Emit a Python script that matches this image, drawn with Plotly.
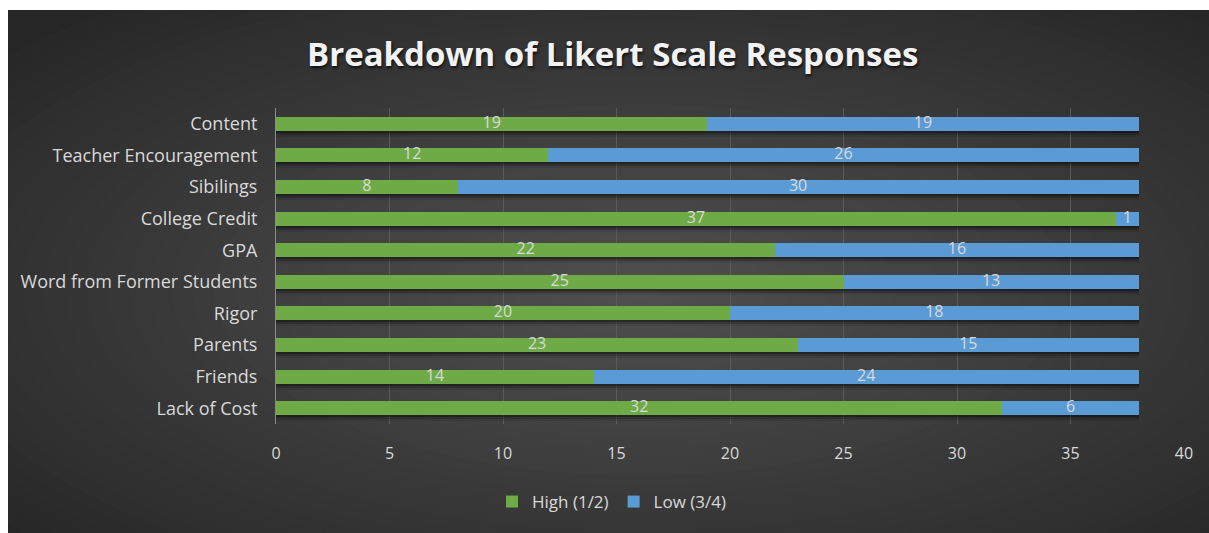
import plotly.graph_objects as go

categories = ["Lack of Cost", "Friends", "Parents", "Rigor", "Word from Former Students",
              "GPA", "College Credit", "Sibilings", "Teacher Encouragement", "Content"]
high = [32, 14, 23, 20, 25, 22, 37, 8, 12, 19]
low = [6, 24, 15, 18, 13, 16, 1, 30, 26, 19]
x_ticks = [0, 5, 10, 15, 20, 25, 30, 35, 40]
title_text = "Breakdown of Likert Scale Responses"
series_names = ["High (1/2)", "Low (3/4)"]

W, H = 1209, 533
ML, MR, MT, MB = 276, 1209 - 1184, 108, 533 - 424
PW, PH = W - ML - MR, H - MT - MB

def px_x(px):
    return (px - ML) / PW

def px_y(py):
    return (H - MB - py) / PH

FONT = "Open Sans"
TXT = "#d9d9d9"
GREEN = "#6eab46"
BLUE = "#5b9bd5"
BAR_W = 0.443
CAT_PX = PH / len(categories)

fig = go.Figure()
# soft drop shadow under each bar, one layer per overlaid axis so they do not stack
totals = [h + l for h, l in zip(high, low)]
for ax, (d_px, alpha) in zip(("y", "y2", "y3"), ((2, 0.28), (4, 0.18), (6, 0.08))):
    d = d_px / CAT_PX
    fig.add_trace(go.Bar(y=categories, x=totals, orientation="h", yaxis=ax,
                         width=BAR_W, offset=-BAR_W / 2 - d, showlegend=False, hoverinfo="skip",
                         marker=dict(color="rgba(0,0,0,%.2f)" % alpha, line=dict(width=0))))

fig.add_trace(go.Bar(y=categories, x=high, orientation="h", name=series_names[0], yaxis="y4",
                     width=BAR_W, marker=dict(color=GREEN, line=dict(width=0))))
fig.add_trace(go.Bar(y=categories, x=low, orientation="h", name=series_names[1], yaxis="y4",
                     width=BAR_W, marker=dict(color=BLUE, line=dict(width=0))))

# data labels at the centre of each segment
hi_mid = [h / 2 for h in high]
lo_mid = [h + l / 2 for h, l in zip(high, low)]
for xs, vals in ((hi_mid, high), (lo_mid, low)):
    fig.add_trace(go.Scatter(x=xs, y=categories, mode="text", text=[str(v) for v in vals],
                             textposition="middle center", showlegend=False, hoverinfo="skip",
                             yaxis="y4", textfont=dict(family=FONT, size=16, color=TXT)))

shapes = []
# dark panel base (x 8..1209, y 10..533)
shapes.append(dict(type="rect", xref="paper", yref="paper", x0=px_x(8), x1=px_x(1215),
                   y0=px_y(540), y1=px_y(10), fillcolor="#262626", line=dict(width=0), layer="below"))
# radial gradient with concentric ellipses
cx, cy = 640, 290
rx, ry = 600 * 1.42, 262 * 1.42
N = 40
dark, light = 38, 80
for i in range(N):
    s = 1 - i / N
    v = int(round(dark + (light - dark) * (1 - s) ** 0.9))
    col = "rgb(%d,%d,%d)" % (v, v, v)
    shapes.append(dict(type="circle", xref="paper", yref="paper",
                       x0=px_x(cx - rx * s), x1=px_x(cx + rx * s),
                       y0=px_y(cy + ry * s), y1=px_y(cy - ry * s),
                       fillcolor=col, line=dict(width=0), layer="below"))
# white strips above and left of the panel
shapes.append(dict(type="rect", xref="paper", yref="paper", x0=px_x(-5), x1=px_x(1220),
                   y0=px_y(10), y1=px_y(-5), fillcolor="white", line=dict(width=0), layer="below"))
shapes.append(dict(type="rect", xref="paper", yref="paper", x0=px_x(-5), x1=px_x(8),
                   y0=px_y(540), y1=px_y(-5), fillcolor="white", line=dict(width=0), layer="below"))

yrange = [-0.5, len(categories) - 0.5]
hidden_y = dict(overlaying="y", categoryorder="array", categoryarray=categories, range=yrange,
                showgrid=False, zeroline=False, showline=False, showticklabels=False, ticks="")
fig.update_layout(
    width=W, height=H,
    margin=dict(l=ML, r=MR, t=MT, b=MB),
    paper_bgcolor="white", plot_bgcolor="rgba(0,0,0,0)",
    barmode="stack",
    shapes=shapes,
    font=dict(family=FONT, color=TXT, size=16),
    showlegend=True,
    legend=dict(orientation="h", x=px_x(612), xanchor="center", y=px_y(502), yanchor="middle",
                font=dict(family=FONT, size=17, color=TXT), bgcolor="rgba(0,0,0,0)",
                traceorder="normal", itemwidth=30),
    annotations=[dict(text="<b>" + title_text + "</b>", xref="paper", yref="paper",
                      x=px_x(612), y=px_y(54), xanchor="center", yanchor="middle", showarrow=False,
                      font=dict(family=FONT, size=33, color="#f2f2f2",
                                shadow="1px 2px 3px rgba(0,0,0,0.7)"))],
    xaxis=dict(range=[0, 40], tickvals=x_ticks, showgrid=True, gridcolor="#5a5a5a", gridwidth=1,
               zeroline=False, showline=False, ticks="", tickfont=dict(family=FONT, size=16, color=TXT),
               ticklabelstandoff=18, fixedrange=True),
    yaxis=dict(categoryorder="array", categoryarray=categories, showgrid=False, zeroline=False,
               showline=True, linecolor="#8c8c8c", linewidth=1, ticks="", ticklabelstandoff=14,
               tickfont=dict(family=FONT, size=18, color=TXT), range=yrange),
    yaxis2=hidden_y, yaxis3=hidden_y, yaxis4=hidden_y,
)
fig.write_html("out.html", config={"displayModeBar": False},
               post_script="document.body.style.margin='0';document.body.style.overflow='hidden';")
